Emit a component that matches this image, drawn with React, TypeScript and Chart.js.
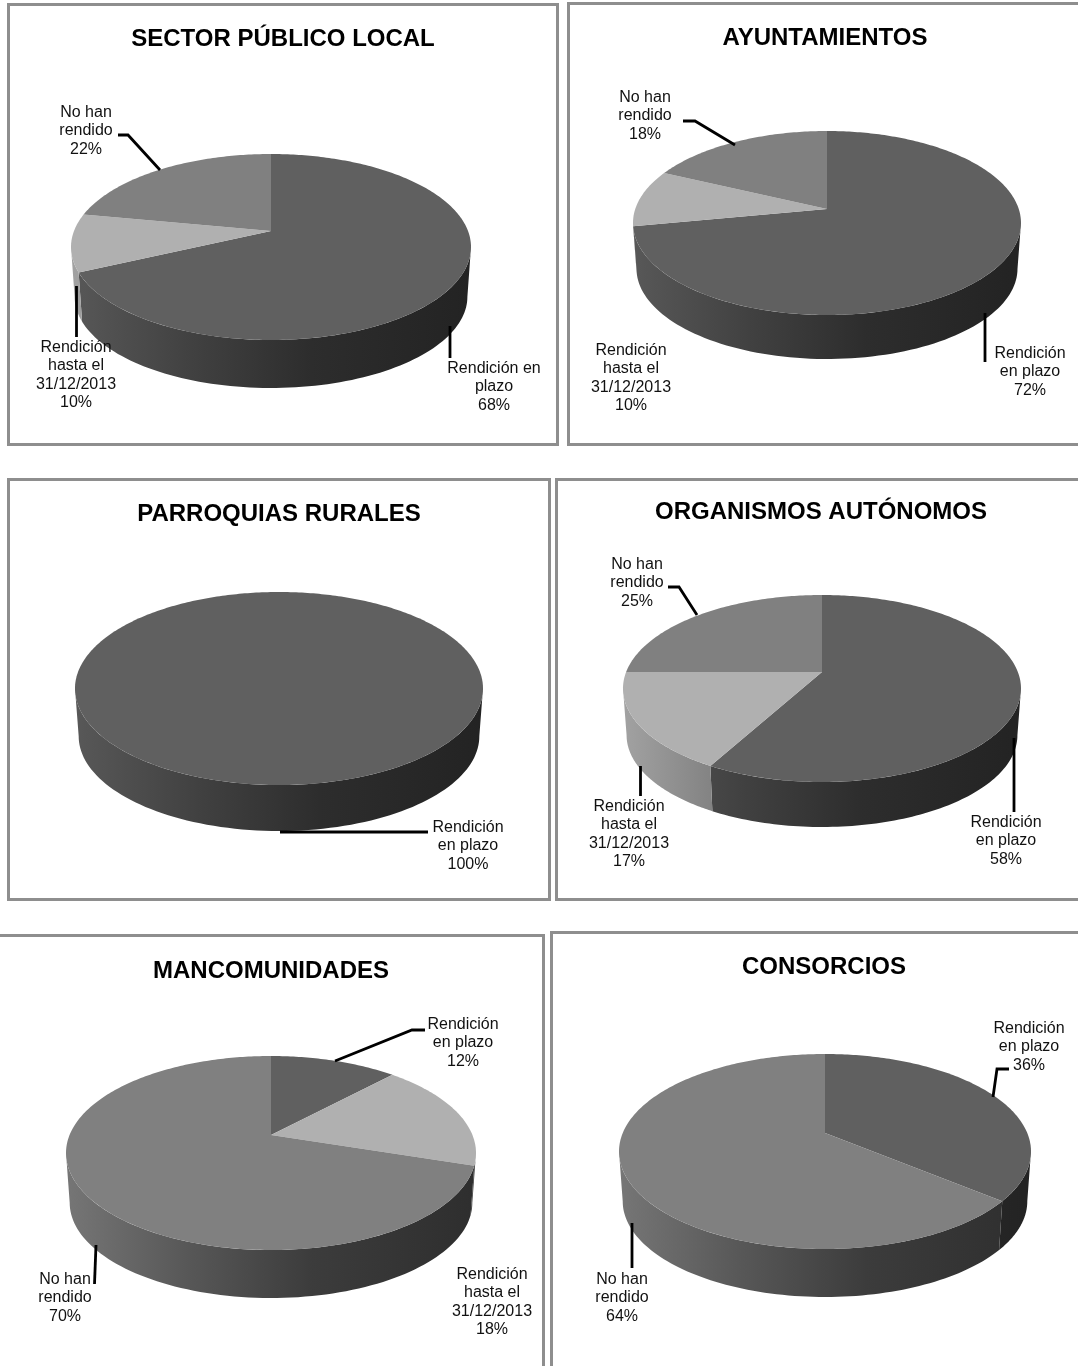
import React, { useEffect, useRef } from "react";
import { Chart, registerables } from "chart.js";

Chart.register(...registerables);

const categories = ["Rendición en plazo", "Rendición hasta el 31/12/2013", "No han rendido"];
const colors = ["#606060", "#b0b0b0", "#808080"];

const sectorPublicoLocal = [68, 10, 22];
const ayuntamientos = [72, 10, 18];
const parroquiasRurales = [100, 0, 0];
const organismosAutonomos = [58, 17, 25];
const mancomunidades = [12, 18, 70];
const consorcios = [36, 0, 64];

type Label = { lines: string[]; x: number; y: number; leader?: number[][] };
type Panel = {
  title: string; values: number[];
  box: [number, number, number, number];
  titleY: number; apex: [number, number];
  half: number; up: number; down: number; depth: number;
  labels: Label[];
};

const panels: Panel[] = [
  {
    title: "SECTOR PÚBLICO LOCAL", values: sectorPublicoLocal, box: [7, 3, 552, 443], titleY: 39,
    apex: [271, 231], half: 200, up: 77, down: 109, depth: 48,
    labels: [
      { lines: ["No han", "rendido", "22%"], x: 86, y: 111, leader: [[118, 135], [128, 135], [160, 170]] },
      { lines: ["Rendición", "hasta el", "31/12/2013", "10%"], x: 76, y: 346, leader: [[76.5, 286], [76.5, 337]] },
      { lines: ["Rendición en", "plazo", "68%"], x: 494, y: 367, leader: [[450, 326], [450, 358]] },
    ],
  },
  {
    title: "AYUNTAMIENTOS", values: ayuntamientos, box: [567, 2, 516, 444], titleY: 38,
    apex: [827, 209], half: 194, up: 78, down: 106, depth: 44,
    labels: [
      { lines: ["No han", "rendido", "18%"], x: 645, y: 96, leader: [[683, 121], [695, 121], [735, 145]] },
      { lines: ["Rendición", "hasta el", "31/12/2013", "10%"], x: 631, y: 349 },
      { lines: ["Rendición", "en plazo", "72%"], x: 1030, y: 352, leader: [[985, 313], [985, 362]] },
    ],
  },
  {
    title: "PARROQUIAS RURALES", values: parroquiasRurales, box: [7, 478, 544, 423], titleY: 514,
    apex: [279, 672], half: 204, up: 80, down: 113, depth: 46,
    labels: [
      { lines: ["Rendición", "en plazo", "100%"], x: 468, y: 826, leader: [[280, 832], [428, 832]] },
    ],
  },
  {
    title: "ORGANISMOS AUTÓNOMOS", values: organismosAutonomos, box: [555, 478, 532, 423], titleY: 512,
    apex: [822, 672], half: 199, up: 77, down: 110, depth: 45,
    labels: [
      { lines: ["No han", "rendido", "25%"], x: 637, y: 563, leader: [[668, 587], [679, 587], [697, 615]] },
      { lines: ["Rendición", "hasta el", "31/12/2013", "17%"], x: 629, y: 805, leader: [[640.5, 766], [640.5, 796]] },
      { lines: ["Rendición", "en plazo", "58%"], x: 1006, y: 821, leader: [[1014, 738], [1014, 812]] },
    ],
  },
  {
    title: "MANCOMUNIDADES", values: mancomunidades, box: [-3, 934, 548, 450], titleY: 971,
    apex: [271, 1135], half: 205, up: 79, down: 115, depth: 48,
    labels: [
      { lines: ["Rendición", "en plazo", "12%"], x: 463, y: 1023, leader: [[425, 1030], [412, 1030], [335, 1061]] },
      { lines: ["Rendición", "hasta el", "31/12/2013", "18%"], x: 492, y: 1273 },
      { lines: ["No han", "rendido", "70%"], x: 65, y: 1278, leader: [[94.5, 1284], [96, 1245]] },
    ],
  },
  {
    title: "CONSORCIOS", values: consorcios, box: [550, 931, 548, 450], titleY: 967,
    apex: [825, 1133], half: 206, up: 79, down: 116, depth: 48,
    labels: [
      { lines: ["Rendición", "en plazo", "36%"], x: 1029, y: 1027, leader: [[1009, 1069], [997, 1069], [993, 1097]] },
      { lines: ["No han", "rendido", "64%"], x: 622, y: 1278, leader: [[632, 1223], [632, 1268]] },
    ],
  },
];

const FONT = '"Liberation Sans", Arial, sans-serif';
const BORDER = 3;
const BASE_SCALE = 0.982;

function shade(hex: string, f: number) {
  const n = parseInt(hex.slice(1), 16);
  const c = (v: number) => Math.round(v * f);
  return `rgb(${c((n >> 16) & 255)},${c((n >> 8) & 255)},${c(n & 255)})`;
}

// Perspective tilt of the pie disc: maps an angle of the library's arc to the rim.
function projector(p: Panel, ox: number, oy: number) {
  const k = (p.down - p.up) / (p.down + p.up);
  const R = p.half * Math.sqrt(1 - k * k);
  const s = (p.up * (1 + k)) / R;
  return (a: number) => {
    const x = Math.cos(a), y = Math.sin(a);
    const d = 1 - k * y;
    return [p.apex[0] - ox + (R * x) / d, p.apex[1] - oy + (R * s * y) / d];
  };
}

function makePlugin(p: Panel) {
  const ox = p.box[0] + BORDER, oy = p.box[1] + BORDER;
  const rim = projector(p, ox, oy);
  const ax = p.apex[0] - ox, ay = p.apex[1] - oy;
  const baseDrop = p.depth + (1 - BASE_SCALE) * p.down;
  const k = (p.down - p.up) / (p.down + p.up);
  const sideAngle = Math.asin(k); // where the rim is widest, so the wall's silhouette starts there
  return {
    id: "pie3d",
    beforeDatasetsDraw(chart: any) {
      const ctx = chart.ctx as CanvasRenderingContext2D;
      const meta = chart.getDatasetMeta(0);
      const left = ax - p.half, right = ax + p.half;
      meta.data.forEach((el: any, i: number) => {
        const start = el.startAngle, end = el.endAngle;
        if (end - start <= 0) return;
        const ranges = [[start, end], [start + 2 * Math.PI, end + 2 * Math.PI], [start - 2 * Math.PI, end - 2 * Math.PI]];
        ranges.forEach(([a0, a1]) => {
          const from = Math.max(a0, sideAngle), to = Math.min(a1, Math.PI - sideAngle);
          if (to <= from) return;
          const g = ctx.createLinearGradient(left, 0, right, 0);
          const c = colors[i];
          g.addColorStop(0, shade(c, 0.92));
          g.addColorStop(0.3, shade(c, 0.68));
          g.addColorStop(0.6, shade(c, 0.47));
          g.addColorStop(1, shade(c, 0.36));
          const n = 90;
          ctx.beginPath();
          for (let j = 0; j <= n; j++) {
            const [x, y] = rim(from + ((to - from) * j) / n);
            j ? ctx.lineTo(x, y) : ctx.moveTo(x, y);
          }
          for (let j = n; j >= 0; j--) {
            const [x, y] = rim(from + ((to - from) * j) / n);
            ctx.lineTo(ax + (x - ax) * BASE_SCALE, ay + (y - ay) * BASE_SCALE + baseDrop);
          }
          ctx.closePath();
          ctx.fillStyle = g;
          ctx.fill();
        });
        // top face: the library's element paints itself through the tilt
        el.draw = (c2: CanvasRenderingContext2D) => {
          const n = Math.max(2, Math.ceil((end - start) * 60));
          const whole = end - start >= 2 * Math.PI - 1e-6;
          c2.beginPath();
          if (!whole) c2.moveTo(ax, ay);
          for (let j = 0; j <= n; j++) {
            const [x, y] = rim(start + ((end - start) * j) / n);
            whole && j === 0 ? c2.moveTo(x, y) : c2.lineTo(x, y);
          }
          c2.closePath();
          c2.fillStyle = el.options.backgroundColor;
          c2.fill();
        };
      });
    },
    afterDraw(chart: any) {
      const ctx = chart.ctx as CanvasRenderingContext2D;
      ctx.save();
      ctx.strokeStyle = "#000";
      ctx.lineWidth = 2.8;
      ctx.lineJoin = "miter";
      ctx.fillStyle = "#111";
      ctx.font = `16px ${FONT}`;
      ctx.textAlign = "center";
      ctx.textBaseline = "middle";
      p.labels.forEach((l) => {
        if (l.leader) {
          ctx.beginPath();
          l.leader.forEach(([x, y], i) => (i ? ctx.lineTo(x - ox, y - oy) : ctx.moveTo(x - ox, y - oy)));
          ctx.stroke();
        }
        l.lines.forEach((t, i) => ctx.fillText(t, l.x - ox, l.y - oy + 1.5 + i * 18.5));
      });
      ctx.restore();
    },
  };
}

function PiePanel({ p }: { p: Panel }) {
  const ref = useRef<HTMLCanvasElement>(null);
  const [bx, by, bw, bh] = p.box;
  const size = 24;
  const innerW = bw - 2 * BORDER, innerH = bh - 2 * BORDER;
  useEffect(() => {
    const k = (p.down - p.up) / (p.down + p.up);
    const chart = new Chart(ref.current!, {
      type: "pie",
      data: {
        labels: categories,
        datasets: [{
          data: p.values,
          backgroundColor: colors,
          borderWidth: 0,
          radius: p.half * Math.sqrt(1 - k * k),
          clip: false,
        }],
      },
      options: {
        animation: false,
        responsive: false,
        maintainAspectRatio: false,
        layout: { padding: 0 },
        plugins: {
          legend: { display: false },
          tooltip: { enabled: false },
          title: {
            display: true,
            text: p.title,
            color: "#000",
            font: { family: FONT, size, weight: "bold", lineHeight: 1.2 },
            padding: { top: p.titleY - by - BORDER - (size * 1.2) / 2, bottom: 4 },
          },
        },
      },
      plugins: [makePlugin(p)],
    } as any);
    return () => chart.destroy();
  }, [p]);
  return (
    <div style={{ position: "absolute", left: bx, top: by, width: bw, height: bh, boxSizing: "border-box", border: `${BORDER}px solid #8e8e8e`, background: "#fff" }}>
      <canvas ref={ref} width={innerW} height={innerH} style={{ display: "block", width: innerW, height: innerH }} />
    </div>
  );
}

export default function App() {
  return (
    <div style={{ position: "fixed", left: 0, top: 0, width: 1078, height: 1366, overflow: "hidden", background: "#fff" }}>
      {panels.map((p) => <PiePanel key={p.title} p={p} />)}
    </div>
  );
}
